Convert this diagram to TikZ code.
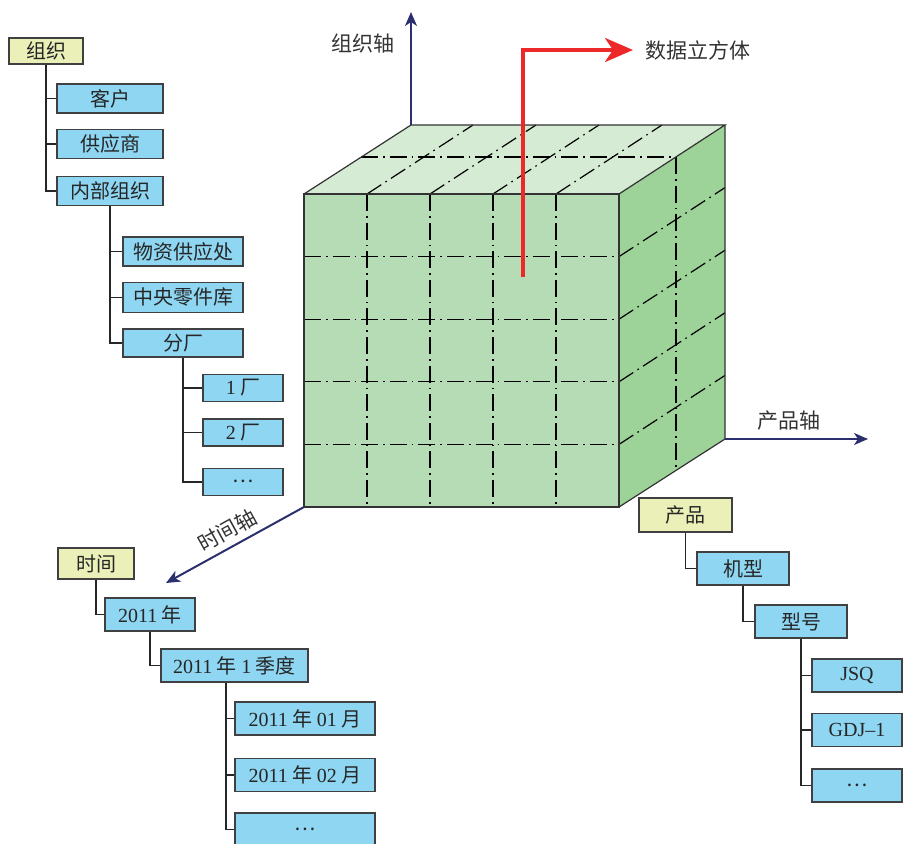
\documentclass[tikz,border=0pt]{standalone}
\usepackage{fontspec}
\setmainfont{Liberation Serif}
\newfontfamily\cjk{Noto Sans CJK SC}
\usepackage{tikz}
\usetikzlibrary{positioning}
\usetikzlibrary{arrows}
\usetikzlibrary{arrows.meta}
\definecolor{catfill}{RGB}{234,240,184}
\definecolor{itemfill}{RGB}{142,214,242}
\definecolor{frontfill}{RGB}{181,220,180}
\definecolor{topfill}{RGB}{213,235,212}
\definecolor{sidefill}{RGB}{157,210,153}
\definecolor{axisblue}{RGB}{44,47,110}
\definecolor{cubered}{RGB}{236,40,40}
\newcommand{\en}[1]{{\rmfamily #1}}

\begin{document}
\begin{tikzpicture}[x=0.5pt,y=-0.5pt,>={Stealth[length=7pt,width=6pt,inset=2pt]},
  box/.style={rectangle,draw=black!75,line width=0.7pt,inner sep=0pt,text=black!85,font=\cjk\fontsize{10}{12}\selectfont},
  cat/.style={box,fill=catfill},
  item/.style={box,fill=itemfill},
  link/.style={draw=black!85,line width=0.8pt},
  axis/.style={->,draw=axisblue,line width=1pt},
  grid/.style={line width=0.6pt,dash pattern=on 8.5pt off 2.5pt on 0.8pt off 2.5pt},
  edgeline/.style={draw=black!80,line width=0.6pt},
  lbl/.style={text=black!80,inner sep=1pt,font=\cjk\fontsize{10.5}{12}\selectfont}]

\useasboundingbox (0,0) rectangle (903,844);

% organisation tree
\node[cat,minimum width=37pt,minimum height=13pt] (zuzhi) at (46,51) {组织};
\node[item,minimum width=53pt,minimum height=14.5pt] (kehu) at (110,98.5) {客户};
\node[item,minimum width=53pt,minimum height=14.5pt,below=7.5pt of kehu] (gongying) {供应商};
\node[item,minimum width=53pt,minimum height=14.5pt,below=8.5pt of gongying] (neibu) {内部组织};
\node[item,minimum width=60pt,minimum height=14.5pt] (wuzi) at (183,251.5) {物资供应处};
\node[item,minimum width=60pt,minimum height=15pt,below=7.5pt of wuzi] (lingjian) {中央零件库};
\node[item,minimum width=60pt,minimum height=14pt,below=7.5pt of lingjian] (fenchang) {分厂};
\node[item,minimum width=40pt,minimum height=13.5pt] (chang1) at (243,388) {\en{1} 厂};
\node[item,minimum width=40pt,minimum height=13.5pt,below=8pt of chang1] (chang2) {\en{2} 厂};
\node[item,minimum width=40pt,minimum height=13.5pt,below=10.5pt of chang2] (changx) {…};

\draw[link] (zuzhi.south) |- (kehu.west);
\draw[link] (zuzhi.south) |- (gongying.west);
\draw[link] (zuzhi.south) |- (neibu.west);
\draw[link] (neibu.south) |- (wuzi.west);
\draw[link] (neibu.south) |- (lingjian.west);
\draw[link] (neibu.south) |- (fenchang.west);
\draw[link] (fenchang.south) |- (chang1.west);
\draw[link] (fenchang.south) |- (chang2.west);
\draw[link] (fenchang.south) |- (changx.west);

% time tree
\node[cat,minimum width=38pt,minimum height=15.5pt] (shijian) at (96,563.5) {时间};
\node[item,minimum width=45pt,minimum height=16.5pt] (year) at (150,614.5) {\en{2011} 年};
\node[item,minimum width=73.5pt,minimum height=16.5pt] (quarter) at (234.5,665.5) {\en{2011} 年 \en{1} 季度};
\node[item,minimum width=70pt,minimum height=16.5pt] (month1) at (305,718.5) {\en{2011} 年 \en{01} 月};
\node[item,minimum width=70pt,minimum height=16.5pt,below=11pt of month1] (month2) {\en{2011} 年 \en{02} 月};
\node[item,minimum width=70pt,minimum height=16.5pt,below=10pt of month2] (monthx) {…};

\draw[link] (shijian.south) |- (year.west);
\draw[link] (year.south) |- (quarter.west);
\draw[link] ([xshift=-4.25pt]quarter.south) |- (month1.west);
\draw[link] ([xshift=-4.25pt]quarter.south) |- (month2.west);
\draw[link] ([xshift=-4.25pt]quarter.south) |- (monthx.west);

% product tree
\node[cat,minimum width=46.5pt,minimum height=17pt] (chanpin) at (685.5,515) {产品};
\node[item,minimum width=46pt,minimum height=16.5pt] (jixing) at (743,568.5) {机型};
\node[item,minimum width=46pt,minimum height=16.5pt] (xinghao) at (801,621.5) {型号};
\node[item,minimum width=45pt,minimum height=16.5pt] (jsq) at (857,675.5) {\en{JSQ}};
\node[item,minimum width=45pt,minimum height=16.5pt,below=10pt of jsq] (gdj) {\en{GDJ–1}};
\node[item,minimum width=45pt,minimum height=16.5pt,below=10.5pt of gdj] (typex) {…};

\draw[link] (chanpin.south) |- (jixing.west);
\draw[link] (jixing.south) |- (xinghao.west);
\draw[link] (xinghao.south) |- (jsq.west);
\draw[link] (xinghao.south) |- (gdj.west);
\draw[link] (xinghao.south) |- (typex.west);

% cube
\coordinate (ftl) at (304,194);
\coordinate (ftr) at (619,194);
\coordinate (fbr) at (619,507);
\coordinate (fbl) at (304,507);
\coordinate (btl) at (411,125);
\coordinate (btr) at (725,125);
\coordinate (bbr) at (725,439);

\fill[frontfill] (ftl) rectangle (fbr);
\fill[topfill] (ftl) -- (btl) -- (btr) -- (ftr) -- cycle;
\fill[sidefill] (ftr) -- (btr) -- (bbr) -- (fbr) -- cycle;

\foreach \i in {1,...,4} {
  \draw[grid] (304+63*\i,194) -- (304+63*\i,507);
  \draw[grid] (304,194+62.6*\i) -- (619,194+62.6*\i);
  \draw[grid] (304+63*\i,194) -- ++(106,-69);
  \draw[grid] (619,194+62.6*\i) -- ++(106,-69);
}
\draw[grid] (361,157) -- (676,157);
\draw[grid] (676,157) -- (676,470);

\draw[edgeline] (ftl) rectangle (fbr);
\draw[edgeline] (ftl) -- (btl) -- (btr) -- (ftr);
\draw[edgeline] (btr) -- (bbr) -- (fbr);

% axes
\coordinate (orgEnd) at (411,12);
\coordinate (prodEnd) at (868,439);
\coordinate (timeEnd) at (166,583);
\draw[axis] (btl) -- (orgEnd) node[lbl,pos=0.72,left=7pt] (orgLbl) {组织轴};
\draw[axis] (bbr) -- (prodEnd) node[lbl,pos=0.45,above=3pt] (prodLbl) {产品轴};
\draw[axis] (fbl) -- (timeEnd) node[lbl,midway,sloped,above=2pt] (timeLbl) {时间轴};

% data cube pointer
\coordinate (probe) at (523,277);
\node[lbl,anchor=west,inner sep=0pt] (cubeLbl) at (645,50) {数据立方体};
\draw[cubered,line width=2pt,-{Stealth[length=14pt,width=12pt,inset=4pt]}] (probe) |- ([xshift=-6pt]cubeLbl.west);

\end{tikzpicture}
\end{document}
